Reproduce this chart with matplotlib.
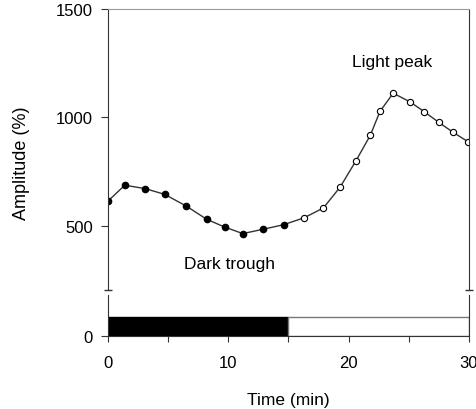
import matplotlib.pyplot as plt

plt.rcParams['font.family'] = ['Liberation Sans', 'DejaVu Sans']

# dark phase (filled) and light phase (open) samples
t_dark = [0, 1.4, 3.1, 4.7, 6.5, 8.2, 9.7, 11.2, 12.9, 14.6]
amp_dark = [615, 688, 672, 646, 592, 531, 495, 465, 485, 506]
t_light = [16.3, 17.9, 19.3, 20.6, 21.8, 22.6, 23.7, 25.1, 26.3, 27.5, 28.7, 29.9]
amp_light = [538, 583, 680, 800, 918, 1028, 1112, 1072, 1026, 977, 931, 889]

yticks = [500, 1000, 1500]
xticks = [0, 5, 10, 15, 20, 25, 30]
xlabels = ['0', '', '10', '', '20', '', '30']
dark_span = (0, 15)
light_span = (15, 15)

fig = plt.figure(figsize=(4.77, 4.10), dpi=100)
ax = fig.add_axes([108/477, 1-291/410, 361/477, 281/410])
ax2 = fig.add_axes([108/477, 1-337/410, 361/477, 41/410])

line_col = '#333333'
ax.plot(t_dark + t_light, amp_dark + amp_light, color=line_col, lw=1, zorder=1)
ax.plot(t_dark, amp_dark, 'o', ms=4.5, mfc='black', mec='black', zorder=2)
ax.plot(t_light, amp_light, 'o', ms=4.5, mfc='white', mec='black', mew=0.8, zorder=2)

ax.set_xlim(0, 30)
ax.set_ylim(205, 1500)
ax.set_yticks(yticks)
ax.set_xticks([])
ax.tick_params(axis='y', direction='out', length=5, pad=6, labelsize=12, color=line_col)
ax.spines['bottom'].set_visible(False)
ax.spines['top'].set_color('#999999')
for s in ['left', 'right']:
    ax.spines[s].set_color(line_col)
# break caps at the bottom of the spines
ax.plot([0, 30], [205, 205], '_', color=line_col, ms=6, mew=1, clip_on=False)

ax.text(23.6, 1258, 'Light peak', ha='center', va='center', fontsize=12.5)
ax.text(10.1, 325, 'Dark trough', ha='center', va='center', fontsize=12.5)

# light/dark bar
ax2.broken_barh([dark_span], (0, 0.46), facecolor='black', edgecolor='black', lw=1)
ax2.broken_barh([light_span], (0, 0.46), facecolor='white', edgecolor='#777777', lw=1)
ax2.set_xlim(0, 30)
ax2.set_ylim(0, 1)
ax2.set_yticks([0])
ax2.set_xticks(xticks)
ax2.set_xticklabels(xlabels)
ax2.tick_params(axis='y', direction='out', length=5, pad=6, labelsize=12, color=line_col)
ax2.tick_params(axis='x', direction='out', length=4, pad=10, labelsize=12, color=line_col)
ax2.spines['top'].set_visible(False)
for s in ['left', 'right', 'bottom']:
    ax2.spines[s].set_color(line_col)
ax2.set_xlabel('Time (min)', fontsize=12.5, labelpad=15.5)

fig.text(22/477, 1-163/410, 'Amplitude (%)', rotation=90, ha='center', va='center', fontsize=13)

fig.savefig('out.png', dpi=100)
